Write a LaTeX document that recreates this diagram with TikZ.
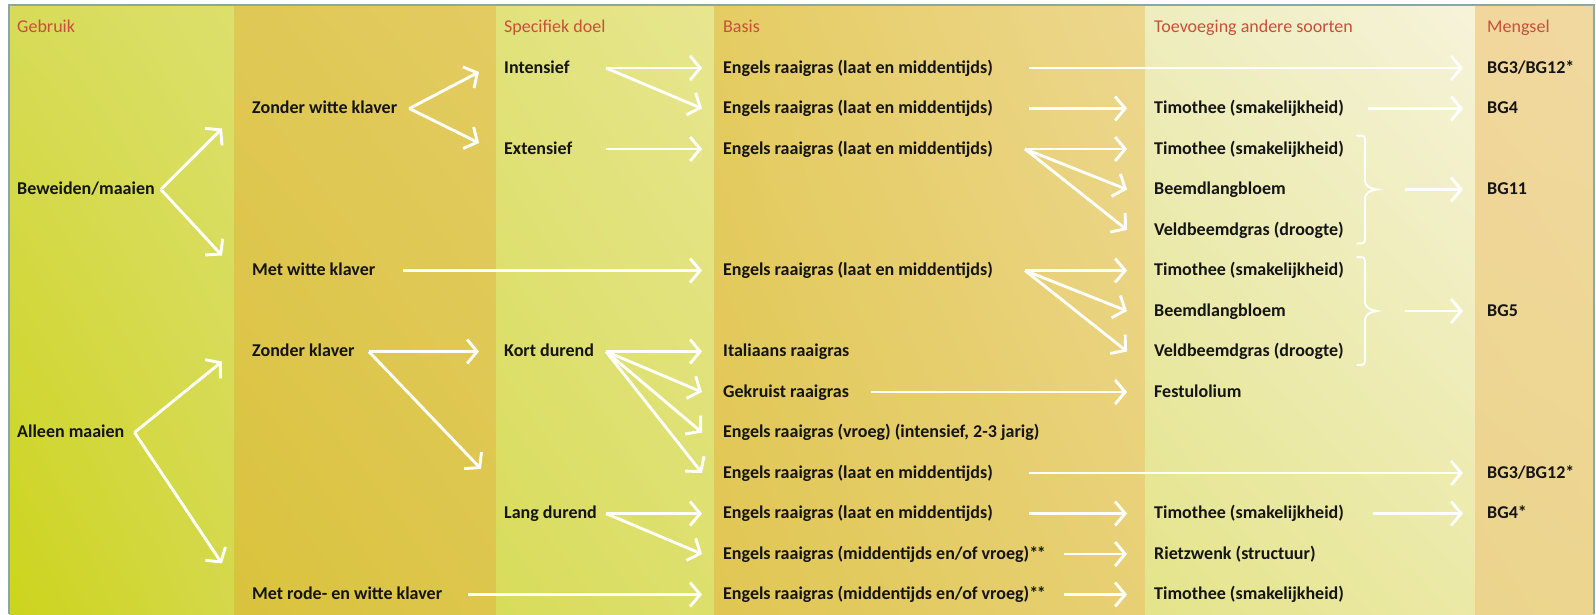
\documentclass[tikz,border=0pt]{standalone}
\usepackage{fontspec}
\usepackage{xcolor}
\usepackage{tikz}
\usetikzlibrary{calc,arrows.meta,shadings}
\newfontfamily\labfont{Carlito}
\definecolor{frame}{HTML}{8CA6A6}
\definecolor{head}{HTML}{C6503A}
\definecolor{ink}{HTML}{141414}
% column colours: lower left, upper left, upper right, lower right
\definecolor{gaLL}{HTML}{CDD41C}\definecolor{gaUL}{HTML}{D7DB58}
\definecolor{gaUR}{HTML}{DCE06C}\definecolor{gaLR}{HTML}{D4D84A}
\definecolor{gbLL}{HTML}{D9C33C}\definecolor{gbUL}{HTML}{E0C856}
\definecolor{gbUR}{HTML}{E3CB62}\definecolor{gbLR}{HTML}{DDC64C}
\definecolor{gcLL}{HTML}{D8DC5A}\definecolor{gcUL}{HTML}{E2E27C}
\definecolor{gcUR}{HTML}{E7E690}\definecolor{gcLR}{HTML}{DDDF6C}
\definecolor{gdLL}{HTML}{E0C652}\definecolor{gdUL}{HTML}{E5CC62}
\definecolor{gdUR}{HTML}{EDD78F}\definecolor{gdLR}{HTML}{E7D074}
\definecolor{geLL}{HTML}{E4E48A}\definecolor{geUL}{HTML}{EEEDBE}
\definecolor{geUR}{HTML}{F6F3DA}\definecolor{geLR}{HTML}{EBE9A6}
\definecolor{gfLL}{HTML}{EBD48C}\definecolor{gfUL}{HTML}{F1D79C}
\definecolor{gfUR}{HTML}{F1D8A0}\definecolor{gfLR}{HTML}{ECD58E}
\tikzset{
  band/.style n args={4}{lower left=#1, upper left=#2, upper right=#3, lower right=#4},
  arr/.style={draw=white, line width=2.9pt, -{Straight Barb[length=10pt,width=24pt]}},
  brc/.style={draw=white, line width=2pt, line cap=round},
  lab/.style={anchor=west, inner sep=0pt, text height=13pt, text depth=3pt, text=ink,
    font=\labfont\bfseries\fontsize{18}{20}\selectfont},
  hdr/.style={lab, text=head, font=\labfont\fontsize{18}{20}\selectfont},
}

\begin{document}
\begin{tikzpicture}[x=1pt, y=-1pt, declare function={ry(\i)=27.5+40.5*\i;}]
  \useasboundingbox (0,0) rectangle (1596,614);
  \fill[white] (0,0) rectangle (1596,614);
  % columns
  \shade[band={gaLL}{gaUL}{gaUR}{gaLR}] (9,5) rectangle (234,614);
  \shade[band={gbLL}{gbUL}{gbUR}{gbLR}] (234,5) rectangle (496,614);
  \shade[band={gcLL}{gcUL}{gcUR}{gcLR}] (496,5) rectangle (714,614);
  \shade[band={gdLL}{gdUL}{gdUR}{gdLR}] (714,5) rectangle (1145,614);
  \shade[band={geLL}{geUL}{geUR}{geLR}] (1145,5) rectangle (1475,614);
  \shade[band={gfLL}{gfUL}{gfUR}{gfLR}] (1475,5) rectangle (1594,614);
  \draw[frame, line width=1.2pt] (9,614) -- (9,5) -- (1594,5) -- (1594,614);

  % arrow tips and starts per column
  \coordinate (tip2) at (222,0);
  \coordinate (tip3) at (479,0);
  \coordinate (tip4) at (702,0);
  \coordinate (tip5) at (1127,0);
  \coordinate (tip6) at (1463,0);
  \coordinate (out3) at (606,0);

  \node[hdr] (hGeb) at (17,{ry(0)}) {Gebruik};
  \node[hdr] (hDoel) at (504,{ry(0)}) {Specifiek doel};
  \node[hdr] (hBasis) at (723,{ry(0)}) {Basis};
  \node[hdr] (hToev) at (1154,{ry(0)}) {Toevoeging andere soorten};
  \node[hdr] (hMeng) at (1487,{ry(0)}) {Mengsel};

  \node[lab] (bew) at (17,{ry(4)}) {Beweiden/maaien};
  \node[lab] (alm) at (17,{ry(10)}) {Alleen maaien};

  \node[lab] (zwk) at (252,{ry(2)}) {Zonder witte klaver};
  \node[lab] (mwk) at (252,{ry(6)}) {Met witte klaver};
  \node[lab] (zkl) at (252,{ry(8)}) {Zonder klaver};
  \node[lab] (mrw) at (252,{ry(14)}) {Met rode- en witte klaver};

  \node[lab] (int) at (504,{ry(1)}) {Intensief};
  \node[lab] (ext) at (504,{ry(3)}) {Extensief};
  \node[lab] (kort) at (504,{ry(8)}) {Kort durend};
  \node[lab] (lang) at (504,{ry(12)}) {Lang durend};

  \foreach \r in {1,2,3,6,11,12}
    \node[lab] (b\r) at (723,{ry(\r)}) {Engels raaigras (laat en middentijds)};
  \node[lab] (b8) at (723,{ry(8)}) {Italiaans raaigras};
  \node[lab] (b9) at (723,{ry(9)}) {Gekruist raaigras};
  \node[lab] (b10) at (723,{ry(10)}) {Engels raaigras (vroeg) (intensief, 2-3 jarig)};
  \foreach \r in {13,14}
    \node[lab] (b\r) at (723,{ry(\r)}) {Engels raaigras (middentijds en/of vroeg)*\kern-1.5pt*};

  \foreach \r in {2,3,6,12,14}
    \node[lab] (t\r) at (1154,{ry(\r)}) {Timothee (smakelijkheid)};
  \foreach \r in {4,7}
    \node[lab] (t\r) at (1154,{ry(\r)}) {Beemdlangbloem};
  \foreach \r in {5,8}
    \node[lab] (t\r) at (1154,{ry(\r)}) {Veldbeemdgras (droogte)};
  \node[lab] (t9) at (1154,{ry(9)}) {Festulolium};
  \node[lab] (t13) at (1154,{ry(13)}) {Rietzwenk (structuur)};

  \node[lab] (m1) at (1487,{ry(1)}) {BG3/BG12*};
  \node[lab] (m2) at (1487,{ry(2)}) {BG4};
  \node[lab] (m4) at (1487,{ry(4)}) {BG11};
  \node[lab] (m7) at (1487,{ry(7)}) {BG5};
  \node[lab] (m11) at (1487,{ry(11)}) {BG3/BG12*};
  \node[lab] (m12) at (1487,{ry(12)}) {BG4*};

  % braces round the added species
  \foreach \r/\n in {4/br1,7/br2}{
    \coordinate (\n) at (1377,{ry(\r)});
    \draw[brc, shift={(0,{ry(\r)})}] (1357,-54) .. controls (1365,-54) .. (1365,-46)
      -- (1365,-10) .. controls (1365,-3) and (1370,-1) .. (1377,0)
      .. controls (1370,1) and (1365,3) .. (1365,10) -- (1365,46)
      .. controls (1365,54) .. (1357,54);
  }

  % gebruik
  \draw[arr] ([xshift=6pt]bew.east) -- ([yshift=-20pt]zwk.west -| tip2);
  \draw[arr] ([xshift=6pt]bew.east) -- ([yshift=15pt]mwk.west -| tip2);
  \draw[arr] ([xshift=10pt]alm.east) -- ([yshift=-10pt]zkl.west -| tip2);
  \draw[arr] ([xshift=10pt]alm.east) -- ([yshift=31pt]mrw.west -| tip2);

  % klaver
  \coordinate (zkEnd) at (481,{ry(10.9)});
  \draw[arr] ([xshift=12pt]zwk.east) -- ([yshift=-4pt]int.west -| tip3);
  \draw[arr] ([xshift=12pt]zwk.east) -- ([yshift=6pt]ext.west -| tip3);
  \draw[arr] ([xshift=14pt]zkl.east) -- (kort.west -| tip3);
  \draw[arr] ([xshift=14pt]zkl.east) -- (zkEnd);
  \draw[arr] ([xshift=28pt]mwk.east) -- (b6.west -| tip4);
  \draw[arr] ([xshift=26pt]mrw.east) -- (b14.west -| tip4);

  % doel
  \foreach \t in {b1,b2}
    \draw[arr] (int.east -| out3) -- (\t.west -| tip4);
  \draw[arr] (ext.east -| out3) -- (b3.west -| tip4);
  \foreach \t in {b8,b9,b10,b11}
    \draw[arr] (kort.east -| out3) -- (\t.west -| tip4);
  \foreach \t in {b12,b13}
    \draw[arr] (lang.east -| out3) -- (\t.west -| tip4);

  % basis
  \draw[arr] ([xshift=36pt]b1.east) -- (m1.west -| tip6);
  \draw[arr] ([xshift=36pt]b2.east) -- (t2.west -| tip5);
  \foreach \t in {t3,t4,t5}
    \draw[arr] ([xshift=32pt]b3.east) -- (\t.west -| tip5);
  \foreach \t in {t6,t7,t8}
    \draw[arr] ([xshift=32pt]b6.east) -- (\t.west -| tip5);
  \draw[arr] ([xshift=22pt]b9.east) -- (t9.west -| tip5);
  \draw[arr] ([xshift=36pt]b11.east) -- (m11.west -| tip6);
  \draw[arr] ([xshift=36pt]b12.east) -- (t12.west -| tip5);
  \draw[arr] ([xshift=18pt]b13.east) -- (t13.west -| tip5);
  \draw[arr] ([xshift=18pt]b14.east) -- (t14.west -| tip5);

  % toevoeging
  \draw[arr] ([xshift=24pt]t2.east) -- (m2.west -| tip6);
  \draw[arr] ([xshift=29pt]t12.east) -- (m12.west -| tip6);
  \draw[arr] ([xshift=28pt]br1) -- (m4.west -| tip6);
  \draw[arr] ([xshift=28pt]br2) -- (m7.west -| tip6);
\end{tikzpicture}
\end{document}
